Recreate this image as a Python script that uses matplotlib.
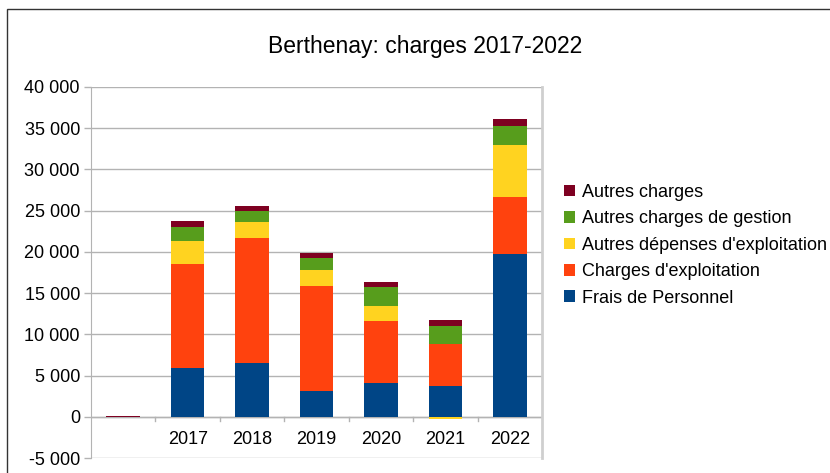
import matplotlib
matplotlib.use("Agg")
import matplotlib.pyplot as plt
from matplotlib.patches import Rectangle
import numpy as np

plt.rcParams['font.family'] = ['Liberation Sans', 'DejaVu Sans']

categories = ["", "2017", "2018", "2019", "2020", "2021", "2022"]
frais_personnel = [0, 5880, 6490, 3090, 4080, 3700, 19700]
charges_exploitation = [0, 12600, 15150, 12730, 7500, 5090, 6910]
autres_depenses = [0, 2790, 1940, 1940, 1820, -250, 6300]
autres_gestion = [0, 1700, 1330, 1450, 2300, 2180, 2420]
autres_charges = [80, 730, 610, 610, 600, 730, 730]

series = [
    ("Frais de Personnel", frais_personnel, "#004586"),
    ("Charges d'exploitation", charges_exploitation, "#ff420e"),
    ("Autres dépenses d'exploitation", autres_depenses, "#ffd320"),
    ("Autres charges de gestion", autres_gestion, "#579d1c"),
    ("Autres charges", autres_charges, "#7e0021"),
]

W, H = 830, 473
fig = plt.figure(figsize=(W / 100, H / 100), dpi=100)
fig.patch.set_facecolor("white")

# figure border (extends past right/bottom edge)
fig.add_artist(Rectangle((7 / W, -0.05), 1.1, (H - 9) / H + 0.05,
                         transform=fig.transFigure, fill=False,
                         edgecolor="#333333", linewidth=1.0))

ax = fig.add_axes([91 / W, 1 - 458 / H, (542 - 91) / W, (458 - 87) / H])

x = np.arange(len(categories))
pos_base = np.zeros(len(categories))
neg_base = np.zeros(len(categories))
handles = []
for name, vals, col in series:
    vals = np.array(vals, dtype=float)
    bottoms = np.where(vals >= 0, pos_base, neg_base)
    b = ax.bar(x, vals, width=0.52, bottom=bottoms, color=col, label=name,
               zorder=3, linewidth=0)
    handles.append(b)
    pos_base += np.where(vals >= 0, vals, 0)
    neg_base += np.where(vals < 0, vals, 0)

ax.set_xlim(-0.5, len(categories) - 0.5)
ax.set_ylim(-5000, 40000)
yt = np.arange(-5000, 40001, 5000)
ax.set_yticks(yt)
ax.set_yticklabels([f"{v:,}".replace(",", " ") for v in yt], fontsize=13)
ax.yaxis.grid(True, color="#b3b3b3", linewidth=1.0, zorder=0)
ax.set_axisbelow(True)

ax.set_xticks([])
for xi, lab in zip(x, categories):
    ax.text(xi, -2730, lab, ha="center", va="center", fontsize=13)
ax.tick_params(axis="y", length=5, color="#b3b3b3", width=1, pad=3)

# category-boundary ticks on zero line
for xb in np.arange(0.5, len(categories) - 0.5, 1.0):
    ax.plot([xb, xb], [0, -550], color="#b3b3b3", linewidth=1, zorder=2,
            clip_on=False)
ax.axhline(0, color="#b3b3b3", linewidth=1, zorder=2)

for s in ["top", "bottom"]:
    ax.spines[s].set_visible(False)
ax.spines["left"].set_color("#b3b3b3")
ax.spines["right"].set_color("#cfcfcf")
ax.spines["right"].set_linewidth(2)

fig.text(425 / W, 1 - 47 / H, "Berthenay: charges 2017-2022", ha="center",
         va="center", fontsize=16.5)

leg = fig.legend(handles[::-1], [s[0] for s in series][::-1],
                 loc="upper left", bbox_to_anchor=(564 / W, 1 - 184 / H),
                 frameon=False, fontsize=13, handlelength=0.6,
                 handleheight=0.6, handletextpad=0.4, labelspacing=0.52,
                 borderpad=0, borderaxespad=0)

fig.savefig("out.png", dpi=100)
